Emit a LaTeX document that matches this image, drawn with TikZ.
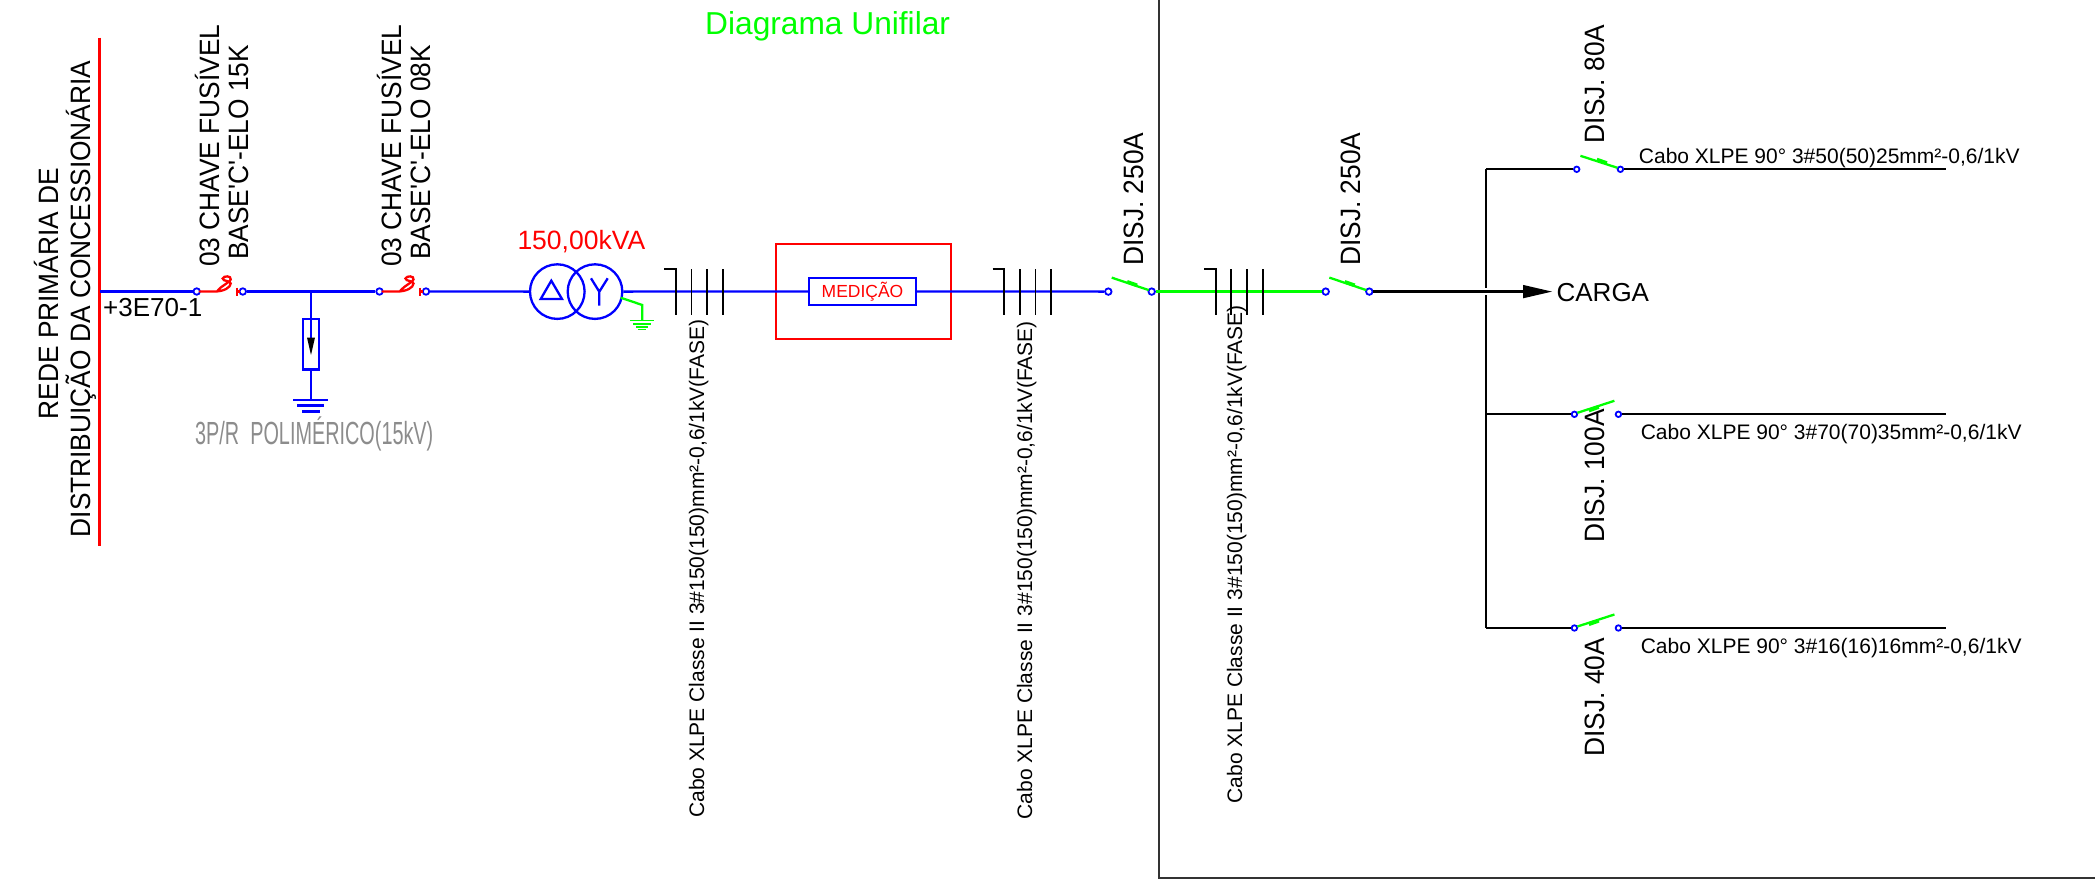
\documentclass[tikz,border=0pt]{standalone}
\usepackage{fontspec}
\setmainfont{Liberation Sans}
\newfontfamily\cadnarrow{Liberation Sans}[FakeStretch=0.62]
\newfontfamily\cadtall{Liberation Sans}[FakeStretch=0.94]
\definecolor{cadblue}{RGB}{0,0,255}
\definecolor{cadred}{RGB}{255,0,0}
\definecolor{cadgreen}{RGB}{0,255,0}
\definecolor{cadgrey}{RGB}{140,140,140}
\definecolor{framegrey}{RGB}{50,50,50}
\tikzset{
  bluew/.style={draw=cadblue,line width=2.3pt},
  redw/.style={draw=cadred,line width=2.3pt},
  greenw/.style={draw=cadgreen,line width=2.3pt},
  blackw/.style={draw=black,line width=2.3pt},
  term/.style={circle,draw=cadblue,fill=white,line width=1.8pt,inner sep=0pt,minimum size=6.5pt},
  vtxt/.style={rotate=90,anchor=base west,inner sep=0pt,font=\cadtall\fontsize{28}{28}\selectfont,text=black},
  vsmall/.style={rotate=90,anchor=base west,inner sep=0pt,font=\fontsize{21}{21}\selectfont,text=black},
  htxt/.style={anchor=base west,inner sep=0pt,font=\fontsize{26}{26}\selectfont,text=black},
  hsmall/.style={anchor=base west,inner sep=0pt,font=\fontsize{21}{21}\selectfont,text=black},
  tick/.style={draw=black,line width=1.9pt}
}
\begin{document}
\begin{tikzpicture}[x=1pt,y=-1pt,line join=miter]
\useasboundingbox (0,0) rectangle (2095,881);
\fill[white] (0,0) rectangle (2095,881);

% frame
\coordinate (fa) at (1159,0); \coordinate (fb) at (1159,878); \coordinate (fc) at (2095,878);
\draw[draw=framegrey,line width=2.3pt] (fa) -- (fb) -- (fc);

% title
\node[anchor=base west,inner sep=0pt,font=\fontsize{31.7}{32}\selectfont,text=cadgreen] (title) at (705,34) {Diagrama Unifilar};

% bus
\coordinate (bust) at (99.5,37.5); \coordinate (busb) at (99.5,545.5); \coordinate (busm) at (99.5,291.5);
\draw[redw] (bust) -- (busb);
\node[vtxt] (t1) at (58.3,419.6) {REDE PRIMÁRIA DE};
\node[vtxt] (t2) at (90,537.5) {DISTRIBUIÇÃO DA CONCESSIONÁRIA};
\node[htxt] (t3) at (103,316) {+3E70-1};

% fuses
\node[term] (f1a) at (196.7,291.5) {};
\node[term] (f1b) at (242.8,291.5) {};
\node[term] (f2a) at (379.5,291.5) {};
\node[term] (f2b) at (426,291.5) {};
\draw[bluew] (busm) -- (f1a);
\draw[bluew] (f1b) -- (f2a);
\foreach \a/\b in {f1a/f1b,f2a/f2b}{
  \begin{scope}[shift={(\a.center)}]
    \draw[redw,line cap=round] (3,0) -- (18,0) .. controls (27,0) and (34,-4) .. (34,-8)
      .. controls (34,-11) and (26,-10) .. (26,-13) .. controls (27,-16) and (35,-16) .. (34,-12)
      .. controls (33,-9) and (25,-6) .. (21,-1);
  \end{scope}
  \begin{scope}[shift={(\b.center)}]
    \draw[redw] (-6,-4) -- (-6,4) (-6,0) -- (-3,0);
  \end{scope}
}
\node[vtxt] (t4) at (219.5,267) {03 CHAVE FUSÍVEL};
\node[vtxt] (t5) at (248.3,260) {BASE'C'-ELO 15K};
\node[vtxt] (t6) at (401,267) {03 CHAVE FUSÍVEL};
\node[vtxt] (t7) at (430.7,260) {BASE'C'-ELO 08K};

% arrester
\node[draw=cadblue,line width=2.3pt,minimum width=16pt,minimum height=50.7pt,inner sep=0pt] (arr) at (311,344) {};
\coordinate (arrtop) at (311,291.5); \coordinate (gnd1) at (311,400);
\draw[bluew] (arrtop) -- (arr.north);
\draw[bluew] (arr.south) -- (gnd1);
\draw[draw=cadblue,line width=1.5pt] (arr.north) -- (311,340);
\fill[black] (307,337.5) -- (315,337.5) -- (311,355) -- cycle;
\draw[bluew] (293,400) -- (328,400) (297,405.5) -- (324,405.5) (302,411.5) -- (320,411.5);
\node[anchor=base west,inner sep=0pt,font=\cadnarrow\fontsize{32}{32}\selectfont,text=cadgrey] (t8) at (195,444.6) {3P/R\ \ POLIMÉRICO(15kV)};

% transformer
\node[circle,draw=cadblue,line width=2.3pt,minimum size=54.6pt,inner sep=0pt] (tra) at (557.3,291.6) {};
\node[circle,draw=cadblue,line width=2.3pt,minimum size=54.6pt,inner sep=0pt] (trb) at (595,291.6) {};
\draw[bluew] (f2b) -- (tra.west);
\draw[bluew] (551.3,280.7) -- (562,299) -- (540.7,299) -- cycle;
\draw[bluew] (591,278.3) -- (599.3,291.7) -- (607.7,278.3) (599.3,291.7) -- (599.3,305.7);
\node[anchor=base west,inner sep=0pt,font=\fontsize{26.5}{26}\selectfont,text=cadred] (t9) at (517.3,249.5) {150,00kVA};
% transformer earth
\coordinate (ge1) at (620.7,297.7); \coordinate (ge2) at (642.3,305); \coordinate (ge3) at (642.3,320.5);
\draw[greenw] (ge1) -- (ge2) -- (ge3);
\draw[draw=cadgreen,line width=1.2pt] (630,320.5) -- (654,320.5) (633,324) -- (651,324) (636,327) -- (648,327) (638,329.7) -- (646,329.7);

% measuring
\node[draw=cadred,line width=2.3pt,minimum width=175.3pt,minimum height=95.3pt,inner sep=0pt] (medbox) at (863.3,291.3) {};
\node[draw=cadblue,line width=2.3pt,minimum width=106.4pt,minimum height=26.4pt,inner sep=0pt,font=\fontsize{17.5}{18}\selectfont,text=cadred] (med) at (862.5,291.5) {MEDIÇÃO};
\draw[bluew] (trb.east) -- (med.west);

% breakers main
\node[term] (b1a) at (1108.3,291.6) {};
\node[term] (b1b) at (1151.7,291.6) {};
\node[term] (b2a) at (1325.7,291.6) {};
\node[term] (b2b) at (1369.3,291.6) {};
\draw[bluew] (med.east) -- (b1a);
\draw[greenw] (b1b) -- (b2a);
\foreach \n in {b1b,b2b}{
  \begin{scope}[shift={(\n.center)}]
    \draw[greenw] (-3,-1.5) -- (-40,-14);
    \fill[cadgreen] (-24,-11.5) -- (-14,-8) -- (-15,-4.5) -- (-25,-8) -- cycle;
  \end{scope}
}
\node[vtxt] (t10) at (1143.3,266) {DISJ. 250A};
\node[vtxt] (t11) at (1360,266) {DISJ. 250A};

% cable marks
\foreach \x in {676,1004.3,1215.7}{
  \draw[tick] (\x-11.7,269) -- (\x,269) -- (\x,314.5);
  \draw[tick] (\x+15.5,269) -- (\x+15.5,314.5);
  \draw[tick] (\x+31.2,269) -- (\x+31.2,314.5);
  \draw[tick] (\x+47,269) -- (\x+47,314.5);
}
\node[vsmall] (t12) at (704,818) {Cabo XLPE Classe II 3\#150(150)mm²-0,6/1kV(FASE)};
\node[vsmall] (t13) at (1032,819.6) {Cabo XLPE Classe II 3\#150(150)mm²-0,6/1kV(FASE)};
\node[vsmall] (t14) at (1242,803.6) {Cabo XLPE Classe II 3\#150(150)mm²-0,6/1kV(FASE)};

% load side
\coordinate (rail1) at (1486,169.3); \coordinate (rail3) at (1486,628);
\coordinate (railu) at (1486,288); \coordinate (raild) at (1486,295);
\coordinate (arrtip) at (1523,291.6);
\draw[blackw] (b2b) -- (arrtip);
\fill[black] (1523,284.9) -- (1552,291.6) -- (1523,298.3) -- cycle;
\node[htxt] (carga) at (1556.4,301.7) {CARGA};
\draw[blackw] (rail1) -- (railu);
\draw[blackw] (raild) -- (rail3);

\node[term,minimum size=5.5pt] (r1a) at (1576.7,169.3) {};
\node[term,minimum size=5.5pt] (r1b) at (1620.4,169.3) {};
\coordinate (e1) at (1946,169.3);
\draw[blackw] (rail1) -- (r1a);
\draw[blackw] (r1b) -- (e1);
\begin{scope}[shift={(r1b.center)}]
  \draw[greenw] (-3,-1.5) -- (-40,-13.5);
  \fill[cadgreen] (-23,-11.5) -- (-13,-8) -- (-14,-4.5) -- (-24,-8) -- cycle;
\end{scope}
\node[vtxt] (t15) at (1604,143.3) {DISJ. 80A};
\node[hsmall] (c1) at (1638.7,163) {Cabo XLPE 90° 3\#50(50)25mm²-0,6/1kV};

\foreach \nm/\y in {r2/414.3,r3/628}{
  \node[term,minimum size=5.5pt] (\nm a) at (1574.4,\y) {};
  \node[term,minimum size=5.5pt] (\nm b) at (1618.4,\y) {};
  \coordinate (\nm s) at (1486,\y);
  \coordinate (\nm e) at (1946,\y);
  \draw[blackw] (\nm s) -- (\nm a);
  \draw[blackw] (\nm b) -- (\nm e);
  \begin{scope}[shift={(\nm a.center)}]
    \draw[greenw] (3,-1.5) -- (40,-13.5);
    \fill[cadgreen] (14,-5.5) -- (24,-9) -- (25,-5.5) -- (15,-2) -- cycle;
  \end{scope}
}
\node[vtxt] (t16) at (1604,542.7) {DISJ. 100A};
\node[vtxt] (t17) at (1604,756.7) {DISJ. 40A};
\node[hsmall] (c2) at (1640.6,439) {Cabo XLPE 90° 3\#70(70)35mm²-0,6/1kV};
\node[hsmall] (c3) at (1640.6,653.3) {Cabo XLPE 90° 3\#16(16)16mm²-0,6/1kV};
\end{tikzpicture}
\end{document}
